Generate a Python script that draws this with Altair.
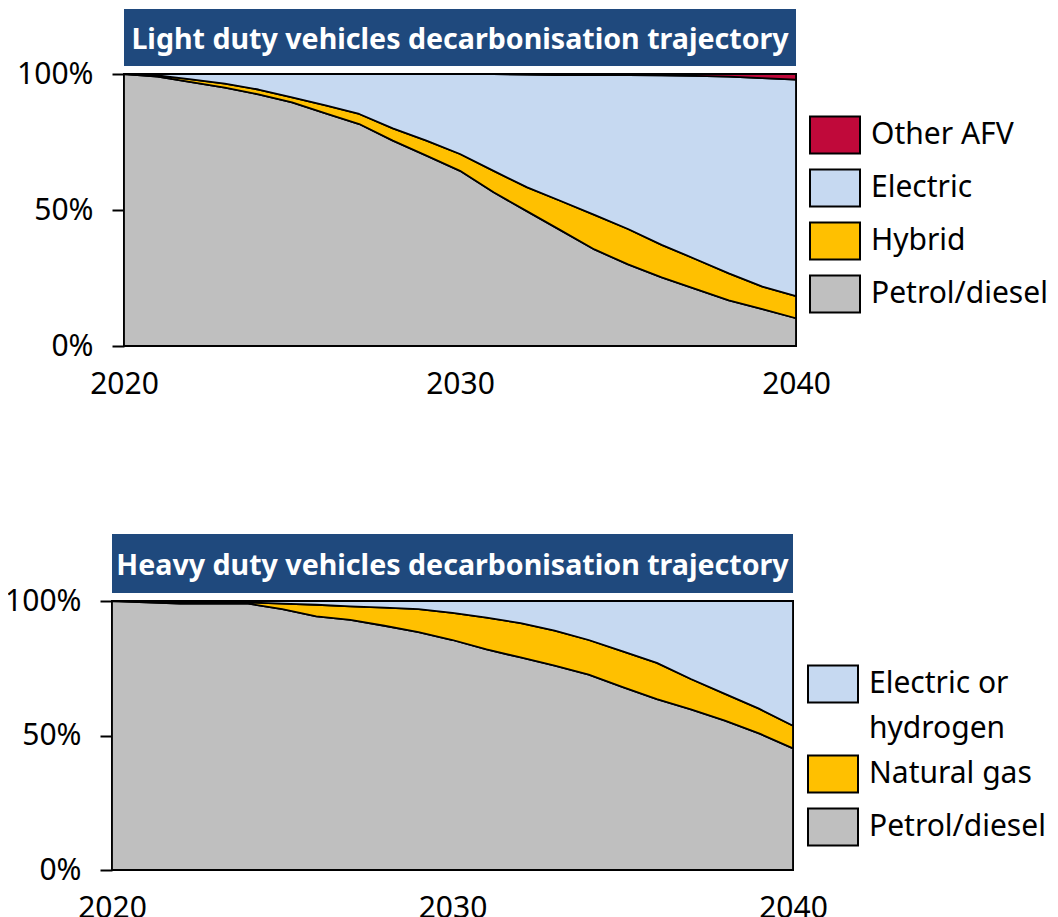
import altair as alt
import pandas as pd

years = list(range(2020, 2041))

# Light duty vehicles (% of fleet)
ld_names = ["Petrol/diesel", "Hybrid", "Electric", "Other AFV"]
ld_colors = ["#BFBFBF", "#FFC000", "#C6D9F1", "#C0093A"]
ld_petrol = [100, 99, 97, 95, 92.5, 89.6, 85.5, 81.6, 75.5, 70, 64.4, 56.5, 49.5, 42.5, 35.5, 30, 25.2, 21, 16.8, 13.6, 10.2]
ld_hybrid = [0, 0.5, 1, 1.5, 1.8, 1.8, 3, 3.7, 4.5, 5.5, 6.2, 7.9, 8.8, 10.8, 12.7, 13, 12, 11, 9.9, 8.2, 8.1]
ld_electric = [0, 0.5, 2, 3.5, 5.7, 8.6, 11.5, 14.7, 20, 24.5, 29.4, 35.6, 41.5, 46.3, 51.4, 56.6, 62.3, 67.3, 72.3, 76.7, 79.6]
ld_other = [0, 0, 0, 0, 0, 0, 0, 0, 0, 0, 0, 0, 0.2, 0.4, 0.4, 0.4, 0.5, 0.7, 1.0, 1.5, 2.1]

# Heavy duty vehicles (% of fleet)
hd_names = ["Petrol/diesel", "Natural gas", "Electric or hydrogen"]
hd_colors = ["#BFBFBF", "#FFC000", "#C6D9F1"]
hd_petrol = [100, 99.5, 99, 99, 99, 97, 94.3, 93, 90.8, 88.4, 85.5, 82, 79, 76, 72.6, 68, 63.5, 59.7, 55.5, 50.8, 45.2]
hd_gas = [0, 0.5, 0.7, 0.6, 0.5, 2, 4.3, 5, 6.7, 8.6, 10.1, 11.8, 12.8, 13, 12.9, 13.3, 13.5, 11.3, 10, 9.2, 8.4]
hd_electric = [0, 0, 0.3, 0.4, 0.5, 1, 1.4, 2, 2.5, 3, 4.4, 6.2, 8.2, 11, 14.5, 18.7, 23, 29, 34.5, 40, 46.4]

ld_title = "Light duty vehicles decarbonisation trajectory"
hd_title = "Heavy duty vehicles decarbonisation trajectory"

FONT = "Noto Sans"
HDR = "#1F497D"
RECT = "M-1,-0.74H1V0.74H-1Z"
one = alt.Data(values=[{}])


def make_df(names, series):
    rows = []
    for k, (name, vals) in enumerate(zip(names, series)):
        for yr, v in zip(years, vals):
            rows.append({"year": yr, "share": v, "tech": name, "k": k})
    return pd.DataFrame(rows)


def spacer(w):
    # invisible narrow column used only to shift a panel horizontally
    return alt.Chart(one).mark_rule(opacity=0).encode(
        x=alt.value(0.5), y=alt.value(0), y2=alt.value(1)
    ).properties(width=w, height=1,
                 view=alt.ViewBackground(stroke="transparent", strokeWidth=0))


def panel(df, names, colors, title, width, height, lx, ly, hdr_top, text_y,
          label_expr=None):
    legend_kw = dict(
        title=None, orient="none", legendX=lx, legendY=ly,
        symbolType=RECT, symbolSize=2500, symbolStrokeColor="black",
        symbolStrokeWidth=2, symbolOpacity=1, labelFont=FONT,
        labelFontSize=30, labelColor="black", labelLimit=400,
        labelOffset=10, rowPadding=4, padding=0,
    )
    if label_expr:
        legend_kw["labelExpr"] = label_expr
    area = alt.Chart(df).mark_area(
        stroke="black", strokeWidth=1.8, strokeJoin="round", opacity=1
    ).encode(
        x=alt.X("year:Q",
                scale=alt.Scale(domain=[2020, 2040], nice=False, zero=False),
                axis=alt.Axis(values=[2020, 2030, 2040], format="d", title=None,
                              grid=False, ticks=False, tickSize=0, domain=False,
                              labelFlush=False, labelPadding=23, labelFont=FONT,
                              labelFontSize=30, labelColor="black")),
        y=alt.Y("share:Q", stack="zero",
                scale=alt.Scale(domain=[0, 100], nice=False),
                axis=alt.Axis(values=[0, 50, 100], labelExpr="datum.value + '%'",
                              title=None, grid=False, domain=False, ticks=True,
                              tickSize=12, tickWidth=2, tickColor="black",
                              labelPadding=19, labelFlush=False, labelFont=FONT,
                              labelFontSize=30, labelColor="black")),
        color=alt.Color("tech:N",
                        scale=alt.Scale(domain=list(reversed(names)),
                                        range=list(reversed(colors))),
                        legend=alt.Legend(**legend_kw)),
        order=alt.Order("k:Q", sort="ascending"),
    )
    hdr = alt.Chart(one).mark_rect(color=HDR, opacity=1).encode(
        x=alt.value(0), x2=alt.value(width), y=alt.value(hdr_top), y2=alt.value(-8)
    )
    txt = alt.Chart(one).mark_text(
        font=FONT, fontSize=28.6, fontWeight="bold", color="white",
        align="center", baseline="middle"
    ).encode(x=alt.value(width / 2), y=alt.value(text_y), text=alt.value(title))
    return alt.layer(area, hdr, txt).properties(width=width, height=height)


ld_df = make_df(ld_names, [ld_petrol, ld_hybrid, ld_electric, ld_other])
hd_df = make_df(hd_names, [hd_petrol, hd_gas, hd_electric])

top = panel(ld_df, ld_names, ld_colors, ld_title, 672, 272,
            lx=807, ly=35, hdr_top=-65, text_y=-34)
bottom = panel(hd_df, hd_names, hd_colors, hd_title, 681, 269,
               lx=805, ly=57, hdr_top=-67, text_y=-35,
               label_expr="datum.label == 'Electric or hydrogen' ? ['Electric or', 'hydrogen'] : datum.label")

row1 = alt.hconcat(spacer(13), top, spacing=0)
row2 = alt.hconcat(spacer(1), bottom, spacing=0)

chart = alt.concat(row1, row2, columns=1, spacing=133).resolve_scale(
    color="independent"
).properties(
    padding={"left": -6, "top": 0, "right": 0, "bottom": 0}
).configure(
    style={"guide-label": {"lineHeight": 45}}
).configure_view(
    stroke="black", strokeWidth=2
)

chart.save("out.html", embed_options={"renderer": "svg", "actions": False})
